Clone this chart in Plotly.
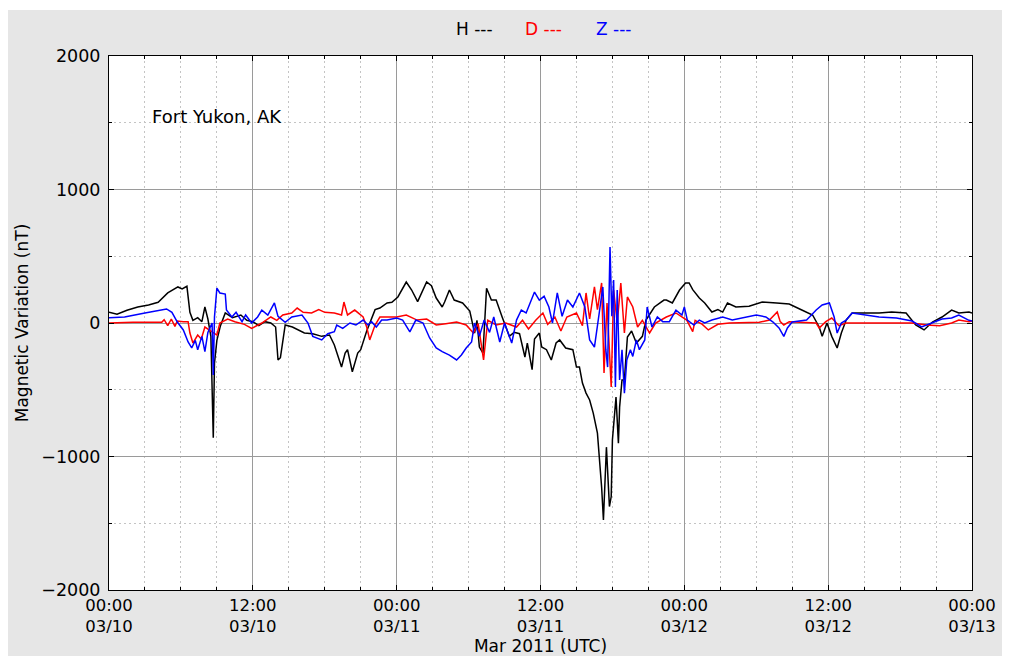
import plotly.graph_objects as go
import pandas as pd

START = pd.Timestamp("2011-03-10 00:00")

# ---------------- data (hours since 2011-03-10 00:00 UTC, nT) ----------------
h_hours = [0, 0.67, 1.5, 2.4, 3.3, 4.1, 4.9, 5.75, 6.1, 6.5, 6.75, 7.0, 7.4, 7.75, 8.0, 8.25, 8.5, 8.7, 8.8,
           9.0, 9.3, 9.7, 10.3, 11.0, 11.5, 12.0, 12.5, 13.0, 13.5, 13.9, 14.1, 14.3, 14.7, 15.3, 16.3, 17.0,
           17.75, 18.4, 18.8, 19.4, 19.7, 19.9, 20.3, 20.75, 21.0, 21.5, 22.2, 22.6, 23.2, 23.6, 24.1, 24.8,
           25.25, 25.75, 26.5, 26.9, 27.3, 27.8, 28.0, 28.4, 28.8, 29.5, 30.1, 30.5, 30.7, 30.9, 31.2, 31.5,
           31.9, 32.3, 32.8, 33.2, 33.4, 33.8, 34.25, 34.7, 34.9, 35.3, 35.5, 35.9, 36.1, 36.5, 36.9, 37.3,
           37.6, 38.1, 38.7, 39.0, 39.25, 39.5, 39.8, 40.1, 40.4, 40.75, 41.0, 41.1, 41.25, 41.5, 41.75, 41.9,
           42.0, 42.3, 42.5, 42.6, 42.8, 43.0, 43.25, 43.6, 44.0, 44.5, 44.8, 45.5, 46.3, 46.5, 47.0, 47.6,
           48.1, 48.4, 48.7, 49.25, 49.7, 50.3, 50.8, 51.2, 51.6, 52.3, 53.4, 54.5, 55.7, 56.75, 57.8, 58.7,
           59.25, 59.5, 59.9, 60.3, 60.75, 61.1, 61.5, 62.0, 63.2, 64.25, 65.3, 66.5, 67.3, 68.0, 68.7, 69.5,
           70.3, 70.9, 71.75, 72.0]
h_values = [80, 65, 95, 120, 135, 155, 225, 270, 255, 275, 80, 20, 40, 10, 120, 30, -100, -860, -300,
            -130, -20, 75, 40, 60, 20, 10, -20, 10, 0, -30, -277, -260, -15, -30, -75, -80,
            -100, -90, -165, -330, -225, -200, -365, -225, -200, -60, 100, 112, 150, 155, 195, 307,
            247, 160, 307, 280, 187, 120, 157, 247, 172, 150, 90, -75, 20, -180, -225, 260,
            172, 172, 45, -52, -100, -70, -80, -255, -150, -350, -120, -75, -180, -200, -277, -150,
            -127, -187, -200, -330, -330, -450, -525, -577, -675, -825, -1100, -1230, -1475, -930, -1375, -1300,
            -875, -555, -900, -630, -427, -425, -105, -60, -150, -100, 22, 120, 172, 172, 150, 247,
            300, 300, 250, 187, 150, 82, 100, 82, 150, 120, 125, 157, 150, 142, 97, 60,
            -30, -100, 0, -100, -187, -75, 22, 75, 75, 75, 82, 75, -15, -52, 7, 45,
            97, 75, 82, 75]

d_hours = [0, 2, 4.4, 4.6, 4.9, 5.2, 5.5, 5.7, 6.2, 6.6, 6.75, 7.0, 7.4, 7.7, 8.0, 8.5, 9.0, 9.25, 9.9,
           10.5, 11.3, 11.9, 12.75, 13.5, 14.0, 14.5, 15.25, 15.7, 16.2, 16.9, 17.5, 18.0, 18.8, 19.4, 19.6,
           19.9, 20.5, 21.2, 21.5, 21.75, 22.2, 22.6, 24.0, 24.8, 25.7, 26.5, 27.3, 28.1, 29.0, 29.8, 30.4,
           30.8, 31.25, 31.6, 32.3, 33.1, 34.0, 34.5, 35.0, 35.6, 36.2, 36.6, 37.2, 37.7, 38.2, 39.0, 39.5,
           39.8, 40.1, 40.5, 40.75, 41.1, 41.3, 41.55, 41.9, 42.1, 42.4, 42.7, 43.0, 43.25, 43.7, 44.1, 44.5,
           45.1, 45.6, 46.5, 47.3, 48.2, 48.7, 48.9, 49.5, 50.0, 50.8, 51.75, 53.2, 54.25, 55.1, 55.75, 56.0,
           56.3, 56.75, 58.2, 59.0, 59.25, 59.8, 60.3, 60.9, 61.5, 62.8, 64.8, 67.0, 68.2, 69.3, 70.3, 70.9,
           71.75, 72.0]
d_values = [0, 5, 5, 25, -20, 30, -25, 15, 10, 10, -75, -150, -90, -120, -30, -60, -90, 0, 30,
            10, -10, -40, 0, 45, 20, 60, 75, 112, 80, 75, 100, 80, 75, 60, 157,
            60, 97, 45, -30, -127, -15, 45, 45, 60, 22, 30, -15, -5, 7, -15, -75,
            -5, -277, 20, -15, 0, -30, 20, -45, 20, 75, -10, 45, -60, 45, 75, -20,
            225, 30, 270, 100, 300, -375, 150, -480, 247, 0, 300, -75, 195, 120, -30, 20,
            -75, 0, 45, 75, 22, -65, 20, -10, -52, -10, 0, 0, 5, 22, 82, 10,
            -15, 10, 5, 0, -37, 10, 37, -20, 0, 0, 0, 0, -15, -20, 0, 22,
            10, 15]

z_hours = [0, 1.3, 3.0, 4.1, 4.8, 5.25, 5.7, 6.2, 6.6, 6.9, 7.2, 7.4, 7.75, 8.0, 8.25, 8.6, 8.7, 8.8, 9.0,
           9.25, 9.7, 9.8, 10.25, 10.6, 11.1, 11.4, 11.9, 12.4, 12.75, 13.25, 13.8, 14.1, 14.7, 15.25, 16.1,
           16.6, 17.0, 17.75, 18.25, 18.8, 19.0, 19.5, 20.1, 20.6, 21.2, 21.6, 21.9, 22.3, 22.75, 23.2, 24.0,
           24.5, 25.1, 25.6, 26.2, 26.75, 27.3, 27.8, 28.4, 29.0, 29.4, 29.8, 30.25, 30.5, 30.9, 31.3, 31.75,
           32.1, 32.6, 33.0, 33.6, 34.0, 34.4, 34.8, 35.5, 35.9, 36.3, 36.7, 37.0, 37.4, 37.8, 38.25, 38.7,
           39.25, 39.7, 40.1, 40.5, 40.9, 41.2, 41.45, 41.6, 41.8, 41.95, 42.1, 42.25, 42.4, 42.6, 42.8, 43.0,
           43.2, 43.5, 43.7, 44.0, 44.25, 44.7, 44.9, 45.3, 45.75, 46.2, 46.75, 47.3, 47.8, 48.0, 48.25, 48.8,
           49.25, 49.7, 50.3, 51.2, 52.0, 53.2, 54.0, 54.8, 55.4, 55.9, 56.3, 56.6, 57.0, 58.2, 59.0, 59.5,
           60.1, 60.5, 60.75, 61.1, 61.5, 62.0, 63.2, 64.25, 65.7, 67.0, 67.8, 68.7, 69.5, 70.3, 70.9, 71.75,
           72.0]
z_values = [40, 45, 75, 90, 105, 80, 7, -52, -142, -187, -130, -200, -100, -215, -70, 0, -390, 45, 262,
            225, 217, 97, 45, 80, 10, 60, 0, 45, 97, 60, 150, 50, 5, 45, 60,
            0, -100, -127, -80, -65, -15, -40, 0, -15, 22, -15, 10, -30, 22, 22, 37,
            22, -67, 22, 0, -112, -187, -215, -240, -277, -240, -187, -142, 0, -100, 22, -70,
            45, -142, 0, -150, 22, 97, 75, 232, 172, 200, 120, 0, 225, 50, 172, 120,
            225, 120, -127, -180, 75, 270, -200, -330, 570, 50, 322, -480, 247, -427, -200, -525,
            -277, -200, -250, -127, -200, -127, 120, -30, 45, 10, 10, 97, 60, 120, 22, -15,
            22, 0, 22, 45, 22, 45, 60, 45, 7, -37, -100, -37, 7, 22, 97, 135,
            150, 45, -75, 0, 22, 75, 60, 45, 37, 15, -30, 0, 30, 37, 60, 20,
            15]

series_names = ["H", "D", "Z"]
series_colors = ["#000000", "#ff0000", "#0000ff"]

x_tick_hours = [0, 12, 24, 36, 48, 60, 72]
x_tick_labels = ["00:00<br>03/10", "12:00<br>03/10", "00:00<br>03/11", "12:00<br>03/11",
                 "00:00<br>03/12", "12:00<br>03/12", "00:00<br>03/13"]
y_tick_vals = [-2000, -1000, 0, 1000, 2000]
y_tick_labels = ["\u22122000", "\u22121000", "0", "1000", "2000"]

station = "Fort Yukon, AK"


def to_time(hours):
    return [START + pd.Timedelta(hours=v) for v in hours]


FONT = "DejaVu Sans"
FS = 17.5

fig = go.Figure()
for name, hrs, vals, col in zip(series_names, [h_hours, d_hours, z_hours],
                                [h_values, d_values, z_values], series_colors):
    fig.add_trace(go.Scatter(x=to_time(hrs), y=vals, mode="lines", name=name,
                             line=dict(color=col, width=1.5), showlegend=False))

fig.update_layout(
    width=1002, height=648,
    margin=dict(l=101, r=38, t=48, b=66),
    paper_bgcolor="#e6e6e6",
    plot_bgcolor="white",
    font=dict(family=FONT, size=FS, color="black"),
)

fig.update_xaxes(
    type="date",
    range=[START, START + pd.Timedelta(hours=72)],
    tickvals=to_time(x_tick_hours), ticktext=x_tick_labels,
    ticks="inside", ticklen=5, tickcolor="black", tickwidth=1,
    showline=True, linecolor="black", linewidth=1, mirror="ticks",
    showgrid=True, gridcolor="#9a9a9a", gridwidth=1,
    minor=dict(tick0=START, dtick=3 * 3600 * 1000, showgrid=True, gridcolor="#c4c4c4",
               griddash="2px,3px", ticks="inside", ticklen=3, tickcolor="black"),
    tickfont=dict(family=FONT, size=16.5),
    title=dict(text="Mar 2011 (UTC)", font=dict(family=FONT, size=17), standoff=6),
    automargin=False,
    zeroline=False,
)
fig.update_yaxes(
    range=[-2000, 2000],
    tickvals=y_tick_vals, ticktext=y_tick_labels,
    ticks="inside", ticklen=5, tickcolor="black", tickwidth=1,
    showline=True, linecolor="black", linewidth=1, mirror="ticks",
    showgrid=True, gridcolor="#9a9a9a", gridwidth=1,
    minor=dict(dtick=500, showgrid=True, gridcolor="#c4c4c4", griddash="2px,3px",
               ticks="inside", ticklen=3, tickcolor="black"),
    tickfont=dict(family=FONT, size=FS),
    ticklabelstandoff=4,
    title=dict(text="Magnetic Variation (nT)", font=dict(family=FONT, size=17), standoff=8),
    automargin=False,
    zeroline=False,
)

# station label
fig.add_annotation(text=station, xref="paper", yref="paper", x=0.0475, y=0.8876,
                   xanchor="left", yanchor="middle", showarrow=False,
                   font=dict(family=FONT, size=18, color="black"))

# legend-like header
legend_x = [0.423, 0.504, 0.585]
for name, col, lx in zip(series_names, series_colors, legend_x):
    fig.add_annotation(text=name + " ---", xref="paper", yref="paper", x=lx, y=1.0506,
                       xanchor="center", yanchor="middle", showarrow=False,
                       font=dict(family=FONT, size=17, color=col))

# thin white page strip at the very top
fig.add_shape(type="rect", xref="paper", yref="paper", x0=-0.2, x1=1.1, y0=1.086, y1=1.2,
              fillcolor="white", line=dict(width=0), layer="below")

fig.write_html("out.html")
